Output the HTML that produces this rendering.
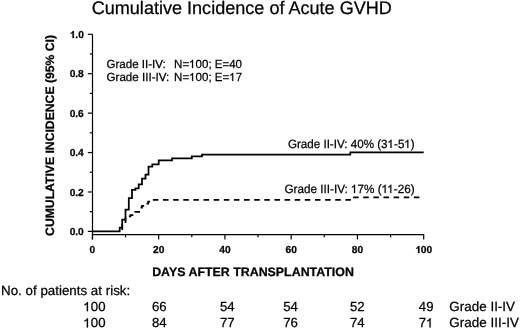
<!DOCTYPE html>
<html><head><meta charset="utf-8"><style>
html,body{margin:0;padding:0;background:#fff;width:520px;height:329px;overflow:hidden}
svg{display:block;will-change:transform}
text{font-family:"Liberation Sans",sans-serif;fill:#000;text-rendering:geometricPrecision;stroke:#000;stroke-width:0.25px}
.h1{stroke:none}
.ax{stroke:#000;stroke-width:1.2}
.tl{font-size:10.2px;font-weight:bold}
.b{font-weight:bold}
.h1{fill:none}
.o{fill:#000;stroke:#000;stroke-width:0.25px;vector-effect:non-scaling-stroke}
</style></head><body>
<svg width="520" height="329" viewBox="0 0 520 329">
<text x="91.69" y="14.04" class="n" font-size="18.2" textLength="300.17" lengthAdjust="spacingAndGlyphs">Cumulative Incidence of Acute GVHD</text>
<line x1="92.5" y1="34.3" x2="92.5" y2="239.4" class="ax"/>
<line x1="92" y1="234.6" x2="424.1" y2="234.6" class="ax"/>
<line x1="87.8" y1="231.40" x2="92.5" y2="231.40" class="ax"/>
<text x="83.80" y="235.15" class="tl" text-anchor="end">0.0</text>
<line x1="89.8" y1="211.69" x2="92.5" y2="211.69" class="ax"/>
<line x1="87.8" y1="191.98" x2="92.5" y2="191.98" class="ax"/>
<text x="83.80" y="195.73" class="tl" text-anchor="end">0.2</text>
<line x1="89.8" y1="172.27" x2="92.5" y2="172.27" class="ax"/>
<line x1="87.8" y1="152.56" x2="92.5" y2="152.56" class="ax"/>
<text x="83.80" y="156.31" class="tl" text-anchor="end">0.4</text>
<line x1="89.8" y1="132.85" x2="92.5" y2="132.85" class="ax"/>
<line x1="87.8" y1="113.14" x2="92.5" y2="113.14" class="ax"/>
<text x="83.80" y="116.89" class="tl" text-anchor="end">0.6</text>
<line x1="89.8" y1="93.43" x2="92.5" y2="93.43" class="ax"/>
<line x1="87.8" y1="73.72" x2="92.5" y2="73.72" class="ax"/>
<text x="83.80" y="77.47" class="tl" text-anchor="end">0.8</text>
<line x1="89.8" y1="54.01" x2="92.5" y2="54.01" class="ax"/>
<line x1="87.8" y1="34.30" x2="92.5" y2="34.30" class="ax"/>
<text x="83.80" y="38.05" class="tl" text-anchor="end"><tspan class="h1">1</tspan>.0</text>
<line x1="92.40" y1="234.6" x2="92.40" y2="239.4" class="ax"/>
<text x="92.40" y="253.10" class="tl" text-anchor="middle">0</text>
<line x1="125.53" y1="234.6" x2="125.53" y2="237.3" class="ax"/>
<line x1="158.66" y1="234.6" x2="158.66" y2="239.4" class="ax"/>
<text x="158.66" y="253.10" class="tl" text-anchor="middle">20</text>
<line x1="191.79" y1="234.6" x2="191.79" y2="237.3" class="ax"/>
<line x1="224.92" y1="234.6" x2="224.92" y2="239.4" class="ax"/>
<text x="224.92" y="253.10" class="tl" text-anchor="middle">40</text>
<line x1="258.05" y1="234.6" x2="258.05" y2="237.3" class="ax"/>
<line x1="291.18" y1="234.6" x2="291.18" y2="239.4" class="ax"/>
<text x="291.18" y="253.10" class="tl" text-anchor="middle">60</text>
<line x1="324.31" y1="234.6" x2="324.31" y2="237.3" class="ax"/>
<line x1="357.44" y1="234.6" x2="357.44" y2="239.4" class="ax"/>
<text x="357.44" y="253.10" class="tl" text-anchor="middle">80</text>
<line x1="390.57" y1="234.6" x2="390.57" y2="237.3" class="ax"/>
<line x1="423.70" y1="234.6" x2="423.70" y2="239.4" class="ax"/>
<text x="423.70" y="253.10" class="tl" text-anchor="middle"><tspan class="h1">1</tspan>00</text>
<text x="152.17" y="276.06" class="b" font-size="12.3" textLength="201.72" lengthAdjust="spacingAndGlyphs">DAYS AFTER TRANSPLANTATION</text>
<text transform="translate(53.60,235.90) rotate(-90)" x="0" y="0" class="b" font-size="12.2">CUMULATIVE INCIDENCE (95% CI)</text>
<text x="106.45" y="68.03" class="n" font-size="11.75" textLength="59.36" lengthAdjust="spacingAndGlyphs">Grade II-IV:</text>
<text x="174.08" y="67.93" class="n" font-size="11.75" textLength="67.97" lengthAdjust="spacingAndGlyphs">N=<tspan class="h1">1</tspan>00; E=40</text>
<text x="106.51" y="80.96" class="n" font-size="11.75" textLength="62.75" lengthAdjust="spacingAndGlyphs">Grade III-IV:</text>
<text x="174.07" y="80.97" class="n" font-size="11.75" textLength="68.08" lengthAdjust="spacingAndGlyphs">N=<tspan class="h1">1</tspan>00; E=<tspan class="h1">1</tspan>7</text>
<text x="287.90" y="147.93" class="n" font-size="12.0" textLength="126.82" lengthAdjust="spacingAndGlyphs">Grade II-IV: 40% (3<tspan class="h1">1</tspan>-5<tspan class="h1">1</tspan>)</text>
<text x="284.43" y="192.91" class="n" font-size="12.0" textLength="130.26" lengthAdjust="spacingAndGlyphs">Grade III-IV: <tspan class="h1">1</tspan>7% (<tspan class="h1">1</tspan><tspan class="h1">1</tspan>-26)</text>
<polyline points="92.40,231.40 119.70,231.40 119.70,227.50 122.20,227.50 122.20,219.60 125.50,219.60 125.50,209.70 128.80,209.70 128.80,198.20 132.00,198.20 132.00,189.90 135.40,189.90 135.40,188.30 138.70,188.30 138.70,184.40 142.00,184.40 142.00,178.70 145.50,178.70 145.50,174.60 148.50,174.60 148.50,166.60 152.30,166.60 152.30,164.40 158.70,164.40 158.70,160.40 172.00,160.40 172.00,158.30 191.80,158.30 191.80,156.30 202.00,156.30 202.00,154.50 350.30,154.50 350.30,152.30 423.70,152.30" fill="none" stroke="#000" stroke-width="1.75" stroke-linejoin="miter" stroke-linecap="butt"/>
<polyline points="122.20,231.40 122.20,223.60 125.50,223.60 125.50,216.30 130.50,216.30 130.50,215.20 134.20,215.20 134.20,211.80 140.30,211.80 140.30,207.70 142.00,207.70 142.00,205.80 146.00,205.80 146.00,203.60 148.20,203.60 148.20,201.60 152.20,201.60 152.20,199.80 351.40,199.80 351.40,197.40 423.20,197.40" fill="none" stroke="#000" stroke-width="1.8" stroke-dasharray="5.5 4.63" stroke-dashoffset="39.0"/>
<text x="1.05" y="295.06" class="n" font-size="13.3" textLength="129.15" lengthAdjust="spacingAndGlyphs">No. of patients at risk:</text>
<text x="105.50" y="311.20" class="n" font-size="13.2" text-anchor="end"><tspan class="h1">1</tspan>00</text>
<text x="105.50" y="327.40" class="n" font-size="13.2" text-anchor="end"><tspan class="h1">1</tspan>00</text>
<text x="166.70" y="311.20" class="n" font-size="13.2" text-anchor="end">66</text>
<text x="166.70" y="327.40" class="n" font-size="13.2" text-anchor="end">84</text>
<text x="234.70" y="311.20" class="n" font-size="13.2" text-anchor="end">54</text>
<text x="234.70" y="327.40" class="n" font-size="13.2" text-anchor="end">77</text>
<text x="297.90" y="311.20" class="n" font-size="13.2" text-anchor="end">54</text>
<text x="297.90" y="327.40" class="n" font-size="13.2" text-anchor="end">76</text>
<text x="364.70" y="311.20" class="n" font-size="13.2" text-anchor="end">52</text>
<text x="364.70" y="327.40" class="n" font-size="13.2" text-anchor="end">74</text>
<text x="433.50" y="311.20" class="n" font-size="13.2" text-anchor="end">49</text>
<text x="433.50" y="327.40" class="n" font-size="13.2" text-anchor="end">7<tspan class="h1">1</tspan></text>
<text x="449.35" y="310.92" class="n" font-size="13.3" textLength="65.69" lengthAdjust="spacingAndGlyphs">Grade II-IV</text>
<text x="449.34" y="326.97" class="n" font-size="13.3" textLength="69.56" lengthAdjust="spacingAndGlyphs">Grade III-IV</text>
<path class="o" transform="translate(69.63,38.05) scale(0.00498,-0.00498)" d="M854,0L573,0L573,1013Q419,876 210,810L210,1054Q320,1088 449,1184Q578,1281 626,1409L854,1409Z"/>
<path class="o" transform="translate(415.19,253.10) scale(0.00499,-0.00498)" d="M854,0L573,0L573,1013Q419,876 210,810L210,1054Q320,1088 449,1184Q578,1281 626,1409L854,1409Z"/>
<path class="o" transform="translate(189.15,67.93) scale(0.00564,-0.00574)" d="M695,0L515,0L515,1097Q450,1038 344,979Q238,920 154,890L154,1057Q305,1125 418,1221Q531,1318 578,1409L695,1409Z"/>
<path class="o" transform="translate(189.16,80.97) scale(0.00565,-0.00574)" d="M695,0L515,0L515,1097Q450,1038 344,979Q238,920 154,890L154,1057Q305,1125 418,1221Q531,1318 578,1409L695,1409Z"/>
<path class="o" transform="translate(229.29,80.97) scale(0.00565,-0.00574)" d="M695,0L515,0L515,1097Q450,1038 344,979Q238,920 154,890L154,1057Q305,1125 418,1221Q531,1318 578,1409L695,1409Z"/>
<path class="o" transform="translate(387.56,147.93) scale(0.00568,-0.00586)" d="M695,0L515,0L515,1097Q450,1038 344,979Q238,920 154,890L154,1057Q305,1125 418,1221Q531,1318 578,1409L695,1409Z"/>
<path class="o" transform="translate(404.37,147.93) scale(0.00568,-0.00586)" d="M695,0L515,0L515,1097Q450,1038 344,979Q238,920 154,890L154,1057Q305,1125 418,1221Q531,1318 578,1409L695,1409Z"/>
<path class="o" transform="translate(351.05,192.91) scale(0.00573,-0.00586)" d="M695,0L515,0L515,1097Q450,1038 344,979Q238,920 154,890L154,1057Q305,1125 418,1221Q531,1318 578,1409L695,1409Z"/>
<path class="o" transform="translate(381.67,192.91) scale(0.00573,-0.00586)" d="M695,0L515,0L515,1097Q450,1038 344,979Q238,920 154,890L154,1057Q305,1125 418,1221Q531,1318 578,1409L695,1409Z"/>
<path class="o" transform="translate(387.33,192.91) scale(0.00573,-0.00586)" d="M695,0L515,0L515,1097Q450,1038 344,979Q238,920 154,890L154,1057Q305,1125 418,1221Q531,1318 578,1409L695,1409Z"/>
<path class="o" transform="translate(83.48,311.20) scale(0.00645,-0.00645)" d="M695,0L515,0L515,1097Q450,1038 344,979Q238,920 154,890L154,1057Q305,1125 418,1221Q531,1318 578,1409L695,1409Z"/>
<path class="o" transform="translate(83.48,327.40) scale(0.00645,-0.00645)" d="M695,0L515,0L515,1097Q450,1038 344,979Q238,920 154,890L154,1057Q305,1125 418,1221Q531,1318 578,1409L695,1409Z"/>
<path class="o" transform="translate(426.16,327.40) scale(0.00645,-0.00645)" d="M695,0L515,0L515,1097Q450,1038 344,979Q238,920 154,890L154,1057Q305,1125 418,1221Q531,1318 578,1409L695,1409Z"/>
</svg>
</body></html>
